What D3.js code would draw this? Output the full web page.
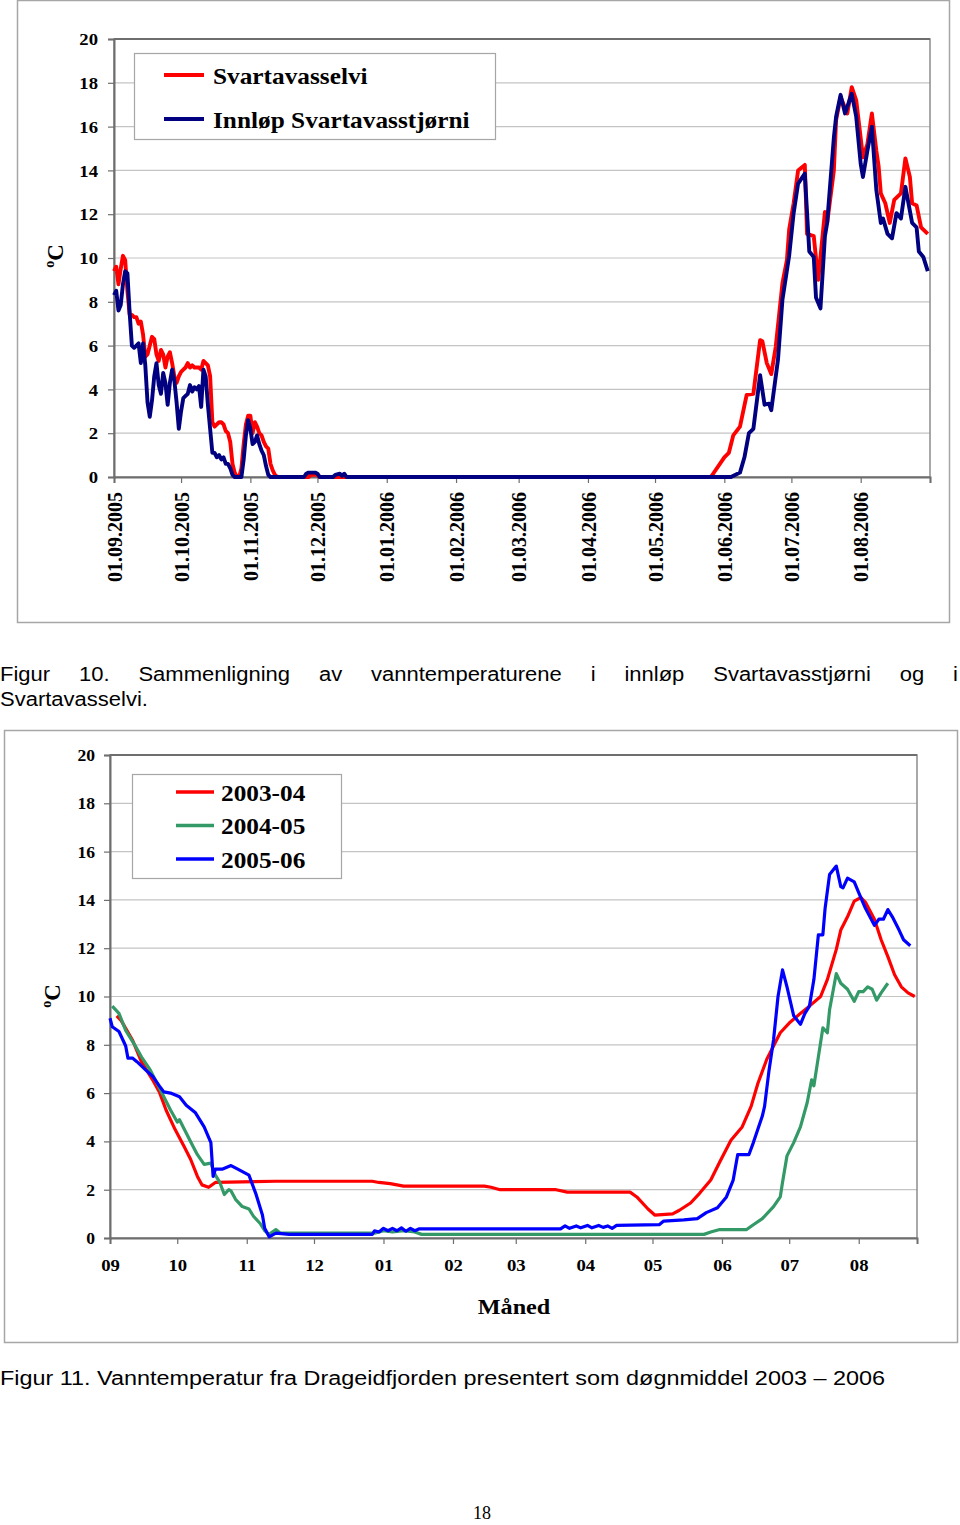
<!DOCTYPE html>
<html><head><meta charset="utf-8">
<script src="https://cdn.jsdelivr.net/npm/d3@7"></script>
<style>body{margin:0;background:#fff}svg{display:block}</style>
</head><body>
<svg id="c" width="960" height="1525"></svg>
<script>
// ---------- DATA: Figur 10 ----------
const topTickLabels = ["01.09.2005","01.10.2005","01.11.2005","01.12.2005","01.01.2006","01.02.2006","01.03.2006","01.04.2006","01.05.2006","01.06.2006","01.07.2006","01.08.2006"];
const topYTicks = [0,2,4,6,8,10,12,14,16,18,20];
const topSeriesNames = ["Svartavasselvi","Innløp Svartavasstjørni"];
const svartavasselvi = [
["2005-09-01",9.4],["2005-09-02",9.6],["2005-09-03",8.8],["2005-09-04",9.5],["2005-09-05",10.1],["2005-09-06",9.9],["2005-09-07",8.5],["2005-09-08",7.4],["2005-09-09",7.4],["2005-09-10",7.3],["2005-09-11",7.3],["2005-09-12",7.0],["2005-09-13",7.1],["2005-09-14",6.5],["2005-09-15",5.5],["2005-09-16",5.6],["2005-09-17",6.0],["2005-09-18",6.4],["2005-09-19",6.3],["2005-09-20",5.6],["2005-09-21",5.3],["2005-09-22",5.8],["2005-09-23",5.6],["2005-09-24",5.0],["2005-09-25",5.5],["2005-09-26",5.7],["2005-09-27",5.2],["2005-09-28",4.6],["2005-09-29",4.3],["2005-09-30",4.6],
["2005-10-01",4.8],["2005-10-02",4.9],["2005-10-03",5.0],["2005-10-04",5.2],["2005-10-05",5.0],["2005-10-06",5.1],["2005-10-07",5.0],["2005-10-08",5.0],["2005-10-09",5.0],["2005-10-10",4.9],["2005-10-11",5.3],["2005-10-12",5.2],["2005-10-13",5.1],["2005-10-14",4.6],["2005-10-15",2.5],["2005-10-16",2.3],["2005-10-17",2.4],["2005-10-18",2.5],["2005-10-19",2.5],["2005-10-20",2.4],["2005-10-21",2.1],["2005-10-22",2.0],["2005-10-23",1.6],["2005-10-24",0.6],["2005-10-25",0.2],["2005-10-26",0],["2005-10-27",0],["2005-10-28",0.4],["2005-10-29",1.5],["2005-10-30",2.4],["2005-10-31",2.8],
["2005-11-01",2.8],["2005-11-02",2.0],["2005-11-03",2.5],["2005-11-04",2.3],["2005-11-05",2.0],["2005-11-06",1.9],["2005-11-07",1.6],["2005-11-08",1.4],["2005-11-09",1.3],["2005-11-10",0.6],["2005-11-11",0.3],["2005-11-12",0.1],["2005-11-13",0],["2005-11-27",0],["2005-11-28",0.1],["2005-12-01",0.1],["2005-12-02",0],
["2006-05-26",0],["2006-06-01",0.9],["2006-06-03",1.1],["2006-06-05",1.9],["2006-06-08",2.3],["2006-06-11",3.75],["2006-06-14",3.8],["2006-06-17",6.25],["2006-06-18",6.2],["2006-06-20",5.2],["2006-06-22",4.7],["2006-06-24",5.95],["2006-06-27",8.85],["2006-06-29",9.9],["2006-06-30",11.3],
["2006-07-02",12.5],["2006-07-04",14.0],["2006-07-07",14.25],["2006-07-08",11.1],["2006-07-11",11.0],["2006-07-13",9.0],["2006-07-16",12.1],["2006-07-17",11.6],["2006-07-20",14.0],["2006-07-21",16.3],["2006-07-23",17.35],["2006-07-26",16.6],["2006-07-28",17.8],["2006-07-30",17.2],
["2006-08-02",14.6],["2006-08-04",15.2],["2006-08-06",16.6],["2006-08-08",14.9],["2006-08-09",14.2],["2006-08-10",12.95],["2006-08-12",12.5],["2006-08-14",11.6],["2006-08-16",12.65],["2006-08-19",12.95],["2006-08-21",14.55],["2006-08-23",13.7],["2006-08-24",12.5],["2006-08-26",12.4],["2006-08-28",11.4],["2006-08-31",11.1]
];
const innlopSvartavasstjorni = [
["2005-09-01",8.3],["2005-09-02",8.5],["2005-09-03",7.6],["2005-09-04",7.85],["2005-09-05",8.8],["2005-09-06",9.4],["2005-09-07",9.3],["2005-09-08",7.5],["2005-09-09",6.0],["2005-09-10",5.9],["2005-09-11",6.0],["2005-09-12",6.1],["2005-09-13",5.2],["2005-09-14",6.1],["2005-09-15",5.1],["2005-09-16",3.4],["2005-09-17",2.75],["2005-09-18",3.5],["2005-09-19",4.6],["2005-09-20",5.2],["2005-09-21",4.2],["2005-09-22",3.8],["2005-09-23",4.75],["2005-09-24",4.3],["2005-09-25",3.3],["2005-09-26",4.3],["2005-09-27",4.9],["2005-09-28",4.4],["2005-09-29",3.4],["2005-09-30",2.2],
["2005-10-01",3.0],["2005-10-02",3.6],["2005-10-03",3.7],["2005-10-04",3.8],["2005-10-05",4.2],["2005-10-06",3.9],["2005-10-07",4.1],["2005-10-08",4.0],["2005-10-09",4.15],["2005-10-10",3.2],["2005-10-11",4.9],["2005-10-12",4.6],["2005-10-13",3.3],["2005-10-14",2.2],["2005-10-15",1.1],["2005-10-16",1.1],["2005-10-17",0.9],["2005-10-18",1.0],["2005-10-19",0.8],["2005-10-20",0.9],["2005-10-21",0.6],["2005-10-22",0.6],["2005-10-23",0.4],["2005-10-24",0.1],["2005-10-25",0],["2005-10-28",0],["2005-10-29",0.8],["2005-10-30",1.9],["2005-10-31",2.6],
["2005-11-01",2.2],["2005-11-02",1.5],["2005-11-03",1.6],["2005-11-04",1.9],["2005-11-05",1.5],["2005-11-06",1.2],["2005-11-07",1.0],["2005-11-08",0.5],["2005-11-09",0.1],["2005-11-10",0],["2005-11-25",0],["2005-11-26",0.15],["2005-11-27",0.2],["2005-11-30",0.2],["2005-12-01",0.15],["2005-12-02",0],["2005-12-08",0],["2005-12-09",0.1],["2005-12-11",0.15],["2005-12-12",0.05],["2005-12-13",0.15],["2005-12-14",0],
["2006-06-04",0],["2006-06-08",0.2],["2006-06-10",0.9],["2006-06-12",2.0],["2006-06-14",2.2],["2006-06-17",4.65],["2006-06-19",3.3],["2006-06-21",3.35],["2006-06-22",3.05],["2006-06-25",5.35],["2006-06-27",8.1],["2006-06-30",10.1],
["2006-07-02",12.05],["2006-07-04",13.4],["2006-07-07",13.85],["2006-07-09",10.3],["2006-07-11",10.05],["2006-07-12",8.2],["2006-07-14",7.7],["2006-07-16",11.0],["2006-07-17",11.6],["2006-07-20",15.5],["2006-07-21",16.45],["2006-07-23",17.45],["2006-07-25",16.6],["2006-07-28",17.5],["2006-07-30",16.45],
["2006-08-01",14.3],["2006-08-02",13.7],["2006-08-04",14.9],["2006-08-06",16.0],["2006-08-08",13.1],["2006-08-10",11.6],["2006-08-11",11.8],["2006-08-13",11.1],["2006-08-15",10.9],["2006-08-17",12.05],["2006-08-19",11.8],["2006-08-21",13.25],["2006-08-24",11.6],["2006-08-26",11.4],["2006-08-27",10.3],["2006-08-29",10.05],["2006-08-31",9.4]
];

// ---------- DATA: Figur 11 (day of season, MM-DD) ----------
const monthLabels = ["09","10","11","12","01","02","03","04","05","06","07","08"];
const bottomYTicks = [0,2,4,6,8,10,12,14,16,18,20];
const bottomSeriesNames = ["2003-04","2004-05","2005-06"];
const season2003 = [
["09-04",9.2],["09-06",9.0],["09-11",8.2],["09-15",7.3],["09-20",6.55],["09-23",6.05],["09-26",5.3],["09-30",4.5],["10-04",3.8],["10-07",3.25],["10-10",2.55],["10-12",2.2],["10-15",2.1],["10-18",2.3],["11-14",2.35],["12-27",2.35],["12-30",2.3],["01-04",2.25],["01-10",2.15],["02-15",2.15],["02-18",2.1],["02-22",2.0],["03-19",2.0],["03-24",1.9],["04-21",1.9],["04-24",1.7],["04-29",1.2],["05-02",0.95],["05-10",1.0],["05-13",1.15],["05-18",1.45],["05-22",1.85],["05-27",2.4],["05-31",3.15],["06-05",4.05],["06-10",4.6],["06-14",5.45],["06-17",6.4],["06-21",7.4],["06-24",7.95],["06-27",8.5],["07-01",8.9],["07-06",9.3],["07-10",9.6],["07-15",10.0],["07-18",10.7],["07-22",11.95],["07-24",12.75],["07-27",13.3],["07-30",13.95],["08-02",14.1],["08-04",13.9],["08-08",13.2],["08-11",12.35],["08-14",11.65],["08-17",10.9],["08-20",10.4],["08-23",10.15],["08-26",10.0]
];
const season2004 = [
["09-02",9.6],["09-05",9.3],["09-08",8.6],["09-12",8.0],["09-15",7.5],["09-19",6.95],["09-22",6.4],["09-25",5.85],["09-28",5.3],["10-01",4.8],["10-02",4.9],["10-05",4.35],["10-08",3.8],["10-10",3.45],["10-13",3.05],["10-16",3.1],["10-18",2.6],["10-20",2.3],["10-22",1.8],["10-24",2.0],["10-25",1.95],["10-27",1.6],["10-30",1.3],["11-02",1.2],["11-04",0.9],["11-07",0.6],["11-09",0.3],["11-11",0.15],["11-14",0.35],["11-16",0.2],["12-28",0.2],["01-01",0.3],["01-05",0.25],["01-10",0.3],["01-15",0.25],["01-18",0.15],["05-24",0.15],["05-27",0.25],["05-31",0.35],["06-12",0.35],["06-15",0.55],["06-19",0.8],["06-24",1.3],["06-27",1.7],["06-28",2.3],["06-30",3.4],["07-03",3.95],["07-06",4.6],["07-09",5.6],["07-11",6.55],["07-12",6.3],["07-14",7.5],["07-16",8.7],["07-18",8.5],["07-19",9.45],["07-22",10.95],["07-24",10.55],["07-27",10.3],["07-30",9.8],["08-01",10.2],["08-03",10.2],["08-05",10.4],["08-07",10.3],["08-09",9.85],["08-11",10.15],["08-14",10.55]
];
const season2005 = [
["09-01",9.1],["09-02",8.75],["09-05",8.55],["09-08",7.95],["09-09",7.45],["09-11",7.45],["09-13",7.3],["09-17",6.95],["09-20",6.7],["09-23",6.3],["09-25",6.05],["09-28",6.0],["10-02",5.85],["10-05",5.5],["10-09",5.2],["10-13",4.6],["10-16",3.95],["10-17",2.55],["10-18",2.85],["10-21",2.85],["10-25",3.0],["10-28",2.85],["11-02",2.6],["11-05",1.85],["11-08",0.95],["11-09",0.4],["11-11",0.05],["11-14",0.2],["11-20",0.15],["12-27",0.15],["12-28",0.3],["12-30",0.25],["01-01",0.4],["01-03",0.3],["01-05",0.4],["01-07",0.3],["01-09",0.42],["01-11",0.28],["01-13",0.4],["01-15",0.3],["01-17",0.38],["01-20",0.38],["03-21",0.38],["03-23",0.5],["03-25",0.4],["03-28",0.5],["03-30",0.42],["04-02",0.52],["04-04",0.42],["04-07",0.52],["04-09",0.44],["04-11",0.5],["04-13",0.4],["04-15",0.52],["05-04",0.55],["05-06",0.7],["05-15",0.75],["05-21",0.8],["05-25",1.05],["05-30",1.25],["06-03",1.7],["06-06",2.4],["06-08",3.45],["06-13",3.45],["06-15",3.95],["06-19",5.05],["06-20",5.45],["06-22",6.95],["06-24",8.2],["06-26",10.0],["06-28",11.1],["06-30",10.4],["07-01",10.0],["07-03",9.2],["07-06",8.85],["07-08",9.3],["07-10",9.6],["07-12",10.7],["07-14",12.55],["07-16",12.55],["07-17",13.65],["07-19",15.05],["07-22",15.4],["07-24",14.55],["07-25",14.5],["07-27",14.9],["07-30",14.75],["08-01",14.3],["08-04",13.65],["08-08",12.95],["08-10",13.2],["08-12",13.2],["08-14",13.6],["08-16",13.3],["08-19",12.75],["08-21",12.35],["08-24",12.1]
];

const caption10Line1 = ["Figur","10.","Sammenligning","av","vanntemperaturene","i","innløp","Svartavasstjørni","og","i"];
const caption10Line2 = "Svartavasselvi.";
const caption11 = "Figur 11. Vanntemperatur fra Drageidfjorden presentert som døgnmiddel 2003 – 2006";
const pageNumber = "18";

// ---------- RENDER ----------
const svg = d3.select("#c");
const SERIF = "'Liberation Serif','Times New Roman',serif";
const SANS = "'Liberation Sans',Arial,sans-serif";
const STRETCH = 1.1;
function stretch(sel, f){ sel.each(function(){ const w=this.getComputedTextLength(); this.setAttribute("textLength", w*f); this.setAttribute("lengthAdjust","spacingAndGlyphs"); }); }

const parseDay = d3.timeParse("%Y-%m-%d");
function seasonDate(md){ const m=+md.slice(0,2); return parseDay((m>=9?"2005-":"2006-")+md); }

// ===== Figure 10 =====
svg.append("rect").attr("x",17.5).attr("y",0.5).attr("width",932).attr("height",622).attr("fill","none").attr("stroke","#a6a6a6").attr("stroke-width",1.5);

const x1 = d3.scaleTime().domain([parseDay("2005-09-01"), parseDay("2006-09-01")]).range([114,930]);
const y1 = d3.scaleLinear().domain([0,20]).range([477,39]);
const g1 = svg.append("g");

g1.selectAll("line.grid").data(topYTicks.filter(v=>v>0&&v<20)).join("line")
  .attr("x1",114).attr("x2",930).attr("y1",d=>y1(d)).attr("y2",d=>y1(d))
  .attr("stroke","#c4c4c4").attr("stroke-width",1.2);
g1.append("rect").attr("x",114).attr("y",39).attr("width",816).attr("height",438).attr("fill","none").attr("stroke","#8c8c8c").attr("stroke-width",1.5);
g1.append("line").attr("x1",114).attr("x2",930).attr("y1",39).attr("y2",39).attr("stroke","#6e6e6e").attr("stroke-width",2);

const topTickDates = topTickLabels.map(s=>{const [d,m,y]=s.split(".");return parseDay(`${y}-${m}-${d}`);}).concat([parseDay("2006-09-01")]);
const xa1 = g1.append("g").attr("transform","translate(0,477)")
  .call(d3.axisBottom(x1).tickValues(topTickDates).tickSize(6).tickFormat((d,i)=>topTickLabels[i]||""));
xa1.select(".domain").attr("stroke","#6e6e6e").attr("stroke-width",2);
xa1.selectAll(".tick line").attr("stroke","#6e6e6e").attr("stroke-width",1.2);
xa1.selectAll("text").attr("transform","rotate(-90)").attr("x",-15).attr("y",0).attr("dy","0.36em")
  .attr("text-anchor","end").attr("font-family",SERIF).attr("font-weight","bold").attr("font-size",20).attr("fill","#000");

const ya1 = g1.append("g").attr("transform","translate(114,0)")
  .call(d3.axisLeft(y1).tickValues(topYTicks).tickSize(6).tickPadding(10));
ya1.select(".domain").attr("stroke","#6e6e6e").attr("stroke-width",2);
ya1.selectAll(".tick line").attr("stroke","#6e6e6e").attr("stroke-width",1.2);
ya1.selectAll("text").attr("font-family",SERIF).attr("font-weight","bold").attr("font-size",17).attr("fill","#000").attr("dy","0.34em");
stretch(ya1.selectAll("text"),STRETCH);

const line1 = d3.line().x(d=>x1(parseDay(d[0]))).y(d=>y1(d[1]));
const topColors = ["#ff0000","#000080"];
[svartavasselvi, innlopSvartavasstjorni].forEach((s,i)=>{
  g1.append("path").datum(s).attr("d",line1).attr("fill","none").attr("stroke",topColors[i]).attr("stroke-width",3.9).attr("stroke-linejoin","round");
});

// y label
const yl1 = svg.append("text").attr("transform","translate(63,256) rotate(-90)").attr("text-anchor","middle")
  .attr("font-family",SERIF).attr("font-weight","bold").attr("font-size",23);
yl1.append("tspan").attr("font-size",14).attr("dy",-9).text("o");
yl1.append("tspan").attr("dy",9).text("C");

// legend
const lg1 = svg.append("g");
lg1.append("rect").attr("x",134.5).attr("y",53.5).attr("width",361).attr("height",86).attr("fill","#fff").attr("stroke","#a6a6a6").attr("stroke-width",1.2);
topSeriesNames.forEach((n,i)=>{
  const yy = 75 + i*44;
  lg1.append("line").attr("x1",164).attr("x2",204).attr("y1",yy).attr("y2",yy).attr("stroke",topColors[i]).attr("stroke-width",4);
  const t = lg1.append("text").attr("x",213).attr("y",yy+8.5).attr("font-family",SERIF).attr("font-weight","bold").attr("font-size",23).text(n);
  stretch(t,STRETCH);
});

// caption 10
const capG = svg.append("g").attr("font-family",SANS).attr("font-size",20).attr("fill","#000");
const words = capG.selectAll("text.w").data(caption10Line1).join("text").attr("class","w").attr("y",681).text(d=>d);
stretch(words,STRETCH);
const widths = []; words.each(function(){ widths.push(+this.getAttribute("textLength")); });
const gap = (958 - d3.sum(widths)) / (widths.length-1);
let cx = 0; words.each(function(d,i){ this.setAttribute("x",cx); cx += widths[i] + gap; });
stretch(capG.append("text").attr("x",0).attr("y",706).text(caption10Line2),STRETCH);

// ===== Figure 11 =====
svg.append("rect").attr("x",4.5).attr("y",730.5).attr("width",953).attr("height",612).attr("fill","none").attr("stroke","#a6a6a6").attr("stroke-width",1.5);

const x2 = d3.scaleTime().domain([parseDay("2005-09-01"), parseDay("2006-08-27")]).range([110,917]);
const y2 = d3.scaleLinear().domain([0,20]).range([1238,755]);
const g2 = svg.append("g");
g2.selectAll("line.grid").data(bottomYTicks.filter(v=>v>0&&v<20)).join("line")
  .attr("x1",110).attr("x2",917).attr("y1",d=>y2(d)).attr("y2",d=>y2(d))
  .attr("stroke","#c4c4c4").attr("stroke-width",1.2);
g2.append("rect").attr("x",110).attr("y",755).attr("width",807).attr("height",483).attr("fill","none").attr("stroke","#8c8c8c").attr("stroke-width",1.5);
g2.append("line").attr("x1",110).attr("x2",917).attr("y1",755).attr("y2",755).attr("stroke","#6e6e6e").attr("stroke-width",2);

const monthDates = monthLabels.map(m=>seasonDate(m+"-01"));
const xa2 = g2.append("g").attr("transform","translate(0,1238)")
  .call(d3.axisBottom(x2).tickValues(monthDates).tickSize(6).tickPadding(15).tickFormat((d,i)=>monthLabels[i]));
xa2.select(".domain").attr("stroke","#6e6e6e").attr("stroke-width",2);
xa2.selectAll(".tick line").attr("stroke","#6e6e6e").attr("stroke-width",1.2);
xa2.selectAll("text").attr("font-family",SERIF).attr("font-weight","bold").attr("font-size",17).attr("fill","#000");
stretch(xa2.selectAll("text"),STRETCH);

const ya2 = g2.append("g").attr("transform","translate(110,0)")
  .call(d3.axisLeft(y2).tickValues(bottomYTicks).tickSize(6).tickPadding(9));
ya2.select(".domain").attr("stroke","#6e6e6e").attr("stroke-width",2);
ya2.selectAll(".tick line").attr("stroke","#6e6e6e").attr("stroke-width",1.2);
ya2.selectAll("text").attr("font-family",SERIF).attr("font-weight","bold").attr("font-size",16).attr("fill","#000").attr("dy","0.34em");
stretch(ya2.selectAll("text"),STRETCH);

const line2 = d3.line().x(d=>x2(seasonDate(d[0]))).y(d=>y2(d[1]));
const botColors = ["#ff0000","#339966","#0000ff"];
[season2003, season2004, season2005].forEach((s,i)=>{
  g2.append("path").datum(s).attr("d",line2).attr("fill","none").attr("stroke",botColors[i]).attr("stroke-width",3.2).attr("stroke-linejoin","round");
});

const yl2 = svg.append("text").attr("transform","translate(60,996) rotate(-90)").attr("text-anchor","middle")
  .attr("font-family",SERIF).attr("font-weight","bold").attr("font-size",23);
yl2.append("tspan").attr("font-size",14).attr("dy",-9).text("o");
yl2.append("tspan").attr("dy",9).text("C");

stretch(svg.append("text").attr("x",514).attr("y",1314).attr("text-anchor","middle").attr("font-family",SERIF).attr("font-weight","bold").attr("font-size",22).text("Måned"),STRETCH);

const lg2 = svg.append("g");
lg2.append("rect").attr("x",132.5).attr("y",774.5).attr("width",209).attr("height",104).attr("fill","#fff").attr("stroke","#a6a6a6").attr("stroke-width",1.2);
bottomSeriesNames.forEach((n,i)=>{
  const yy = 792 + i*33.5;
  lg2.append("line").attr("x1",176).attr("x2",214).attr("y1",yy).attr("y2",yy).attr("stroke",botColors[i]).attr("stroke-width",3.5);
  stretch(lg2.append("text").attr("x",221).attr("y",yy+8.5).attr("font-family",SERIF).attr("font-weight","bold").attr("font-size",23).text(n),STRETCH);
});

const c11 = svg.append("text").attr("x",0).attr("y",1385).attr("font-family",SANS).attr("font-size",20).text(caption11);
c11.attr("textLength",885).attr("lengthAdjust","spacingAndGlyphs");

svg.append("text").attr("x",482).attr("y",1519).attr("text-anchor","middle").attr("font-family",SERIF).attr("font-size",18).text(pageNumber);
</script>
</body></html>
